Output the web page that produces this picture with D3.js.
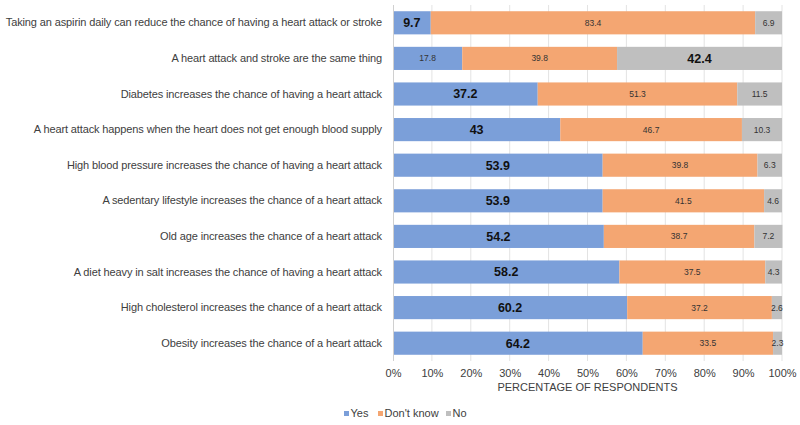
<!DOCTYPE html>
<html><head><meta charset="utf-8">
<script src="https://cdn.jsdelivr.net/npm/d3@7"></script>
<style>body{margin:0;background:#fff}svg{display:block;font-family:"Liberation Sans",Arial,sans-serif}</style>
</head><body><svg id="c" width="800" height="425"></svg>
<script>
const categories = [
  "Taking an aspirin daily can reduce the chance of having a heart attack or stroke",
  "A heart attack and stroke are the same thing",
  "Diabetes increases the chance of having a heart attack",
  "A heart attack happens when the heart does not get enough blood supply",
  "High blood pressure increases the chance of having a heart attack",
  "A sedentary lifestyle increases the chance of a heart attack",
  "Old age increases the chance of a heart attack",
  "A diet heavy in salt increases the chance of having a heart attack",
  "High cholesterol increases the chance of a heart attack",
  "Obesity increases the chance of a heart attack"
];
const seriesNames = ["Yes", "Don't know", "No"];
const yesValues = [9.7, 17.8, 37.2, 43, 53.9, 53.9, 54.2, 58.2, 60.2, 64.2];
const dontKnowValues = [83.4, 39.8, 51.3, 46.7, 39.8, 41.5, 38.7, 37.5, 37.2, 33.5];
const noValues = [6.9, 42.4, 11.5, 10.3, 6.3, 4.6, 7.2, 4.3, 2.6, 2.3];
const correctAnswer = ["Yes", "No", "Yes", "Yes", "Yes", "Yes", "Yes", "Yes", "Yes", "Yes"];
const xTicks = [0, 10, 20, 30, 40, 50, 60, 70, 80, 90, 100];
const xAxisTitle = "PERCENTAGE OF RESPONDENTS";
const colors = ["#7b9fd9", "#f4a672", "#bfbfbf"];

(function () {
const svg = d3.select("#c");
const pL = 393, pR = 782, pT = 5, pB = 361;
const x = d3.scaleLinear().domain([0, 100]).range([pL, pR]);
const y = d3.scaleBand().domain(categories).range([pT, pB]).paddingInner(0.35).paddingOuter(0.175);
const color = d3.scaleOrdinal().domain(seriesNames).range(colors);

const rows = categories.map((c, i) => ({cat: c, "Yes": yesValues[i], "Don't know": dontKnowValues[i], "No": noValues[i], correct: correctAnswer[i]}));
const stack = d3.stack().keys(seriesNames)(rows);

svg.append("g").selectAll("line").data(xTicks.slice(1)).join("line")
  .attr("x1", d => x(d)).attr("x2", d => x(d)).attr("y1", pT).attr("y2", pB)
  .attr("stroke", "#e3e3e3").attr("stroke-width", 1);

const g = svg.append("g");
stack.forEach(s => {
  g.append("g").attr("fill", color(s.key)).selectAll("rect").data(s).join("rect")
    .attr("x", d => x(d[0])).attr("width", d => x(d[1]) - x(d[0]))
    .attr("y", d => y(d.data.cat)).attr("height", y.bandwidth());
});
stack.forEach(s => {
  g.append("g").selectAll("text").data(s).join("text")
    .attr("x", d => (x(d[0]) + x(d[1])) / 2)
    .attr("y", d => y(d.data.cat) + y.bandwidth() / 2)
    .attr("dy", "0.35em").attr("text-anchor", "middle")
    .attr("fill", d => d.data.correct === s.key ? "#111" : "#333")
    .attr("font-size", d => d.data.correct === s.key ? 12.5 : 8.5)
    .attr("font-weight", d => d.data.correct === s.key ? "bold" : "normal")
    .text(d => d.data[s.key]);
});

svg.append("line").attr("x1", pL + 0.5).attr("x2", pL + 0.5).attr("y1", pT).attr("y2", pB)
  .attr("stroke", "#d0d0d0");

const yAxis = svg.append("g").attr("transform", `translate(${pL - 11},0)`)
  .call(d3.axisLeft(y).tickSize(0).tickPadding(0));
yAxis.select(".domain").remove();
yAxis.selectAll("text").attr("font-size", 11).attr("letter-spacing", "-0.12px").attr("fill", "#404040").attr("font-family", "Liberation Sans, Arial, sans-serif");
yAxis.selectAll("text").each(function () {
  const w = this.getComputedTextLength();
  const maxW = pL - 11 - 5;
  if (w > maxW) d3.select(this).attr("textLength", maxW).attr("lengthAdjust", "spacingAndGlyphs");
});

const xAxis = svg.append("g").attr("transform", `translate(0,${pB})`)
  .call(d3.axisBottom(x).tickValues(xTicks).tickFormat(d => d + "%").tickSize(0).tickPadding(8));
xAxis.select(".domain").remove();
xAxis.selectAll("text").attr("font-size", 11).attr("fill", "#404040").attr("font-family", "Liberation Sans, Arial, sans-serif");

svg.append("text").attr("x", (pL + pR) / 2).attr("y", 391).attr("text-anchor", "middle")
  .attr("font-size", 11).attr("fill", "#404040").text(xAxisTitle);

const legendX = [344, 378, 446];
const lg = svg.append("g").selectAll("g").data(seriesNames).join("g")
  .attr("transform", (d, i) => `translate(${legendX[i]},411)`);
lg.append("rect").attr("width", 5).attr("height", 5).attr("fill", d => color(d));
lg.append("text").attr("x", 6.5).attr("y", 2.5).attr("dy", "0.35em").attr("font-size", 11).attr("fill", "#404040").text(d => d);
})();
</script></body></html>
